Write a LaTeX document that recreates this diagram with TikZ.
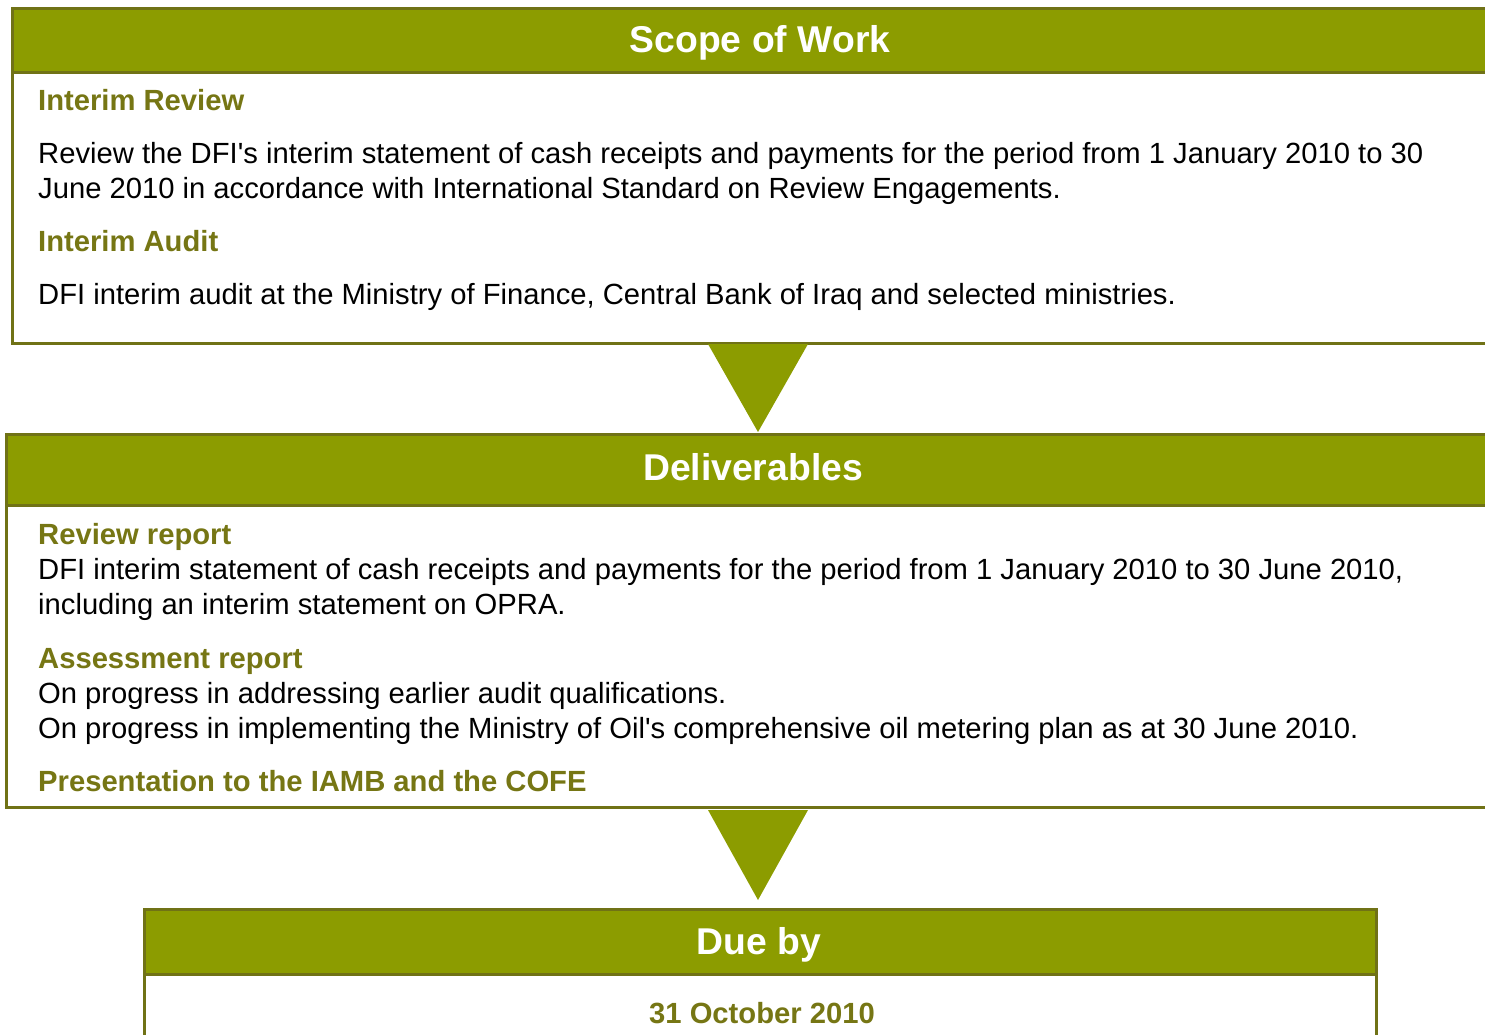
\documentclass[tikz,border=0pt]{standalone}
\usepackage{fontspec}
\setmainfont{Liberation Sans}[Ligatures=TeXOff]
\definecolor{hdrfill}{RGB}{140,156,0}
\definecolor{hdrline}{RGB}{112,114,22}
\definecolor{subtxt}{RGB}{118,118,20}
\tikzset{
  boxbody/.style={draw=hdrline, line width=2.5pt, fill=white, rectangle, anchor=north west, inner sep=0pt},
  boxhead/.style={draw=hdrline, line width=2.5pt, fill=hdrfill, rectangle, anchor=north west, inner sep=0pt},
  headtxt/.style={text=white, font=\fontsize{37.3}{42}\selectfont\bfseries, anchor=base, inner sep=0pt},
  subhead/.style={text=subtxt, font=\fontsize{29.2}{35}\selectfont\bfseries, anchor=base west, inner sep=0pt},
  bodytxt/.style={text=black, font=\fontsize{29.2}{35}\selectfont, anchor=base west, inner sep=0pt},
  tri/.style={fill=hdrfill, draw=none}
}
\begin{document}
\begin{tikzpicture}[x=1pt,y=-1pt]
\useasboundingbox (0,0) rectangle (1485,1034);
\clip (0,0) rectangle (1485,1034);
% box 1
\node[boxbody, minimum width=1500pt, minimum height=335pt] (b1) at (11,7) {};
\node[boxhead, minimum width=1500pt, minimum height=64pt] (h1) at (11,7) {};
\node[headtxt] (t1) at (760,52) {Scope of Work};
\node[subhead] (s1a) at (38,110) {Interim Review};
\node[bodytxt] (p1a) at (38,163) {Review the DFI's interim statement of cash receipts and payments for the period from 1 January 2010 to 30};
\node[bodytxt] (p1a2) at (38,198) {June 2010 in accordance with International Standard on Review Engagements.};
\node[subhead] (s1b) at (38,251) {Interim Audit};
\node[bodytxt] (p1b) at (38,304) {DFI interim audit at the Ministry of Finance, Central Bank of Iraq and selected ministries.};
% box 2
\node[boxbody, minimum width=1500pt, minimum height=373pt] (b2) at (5,433) {};
\node[boxhead, minimum width=1500pt, minimum height=71pt] (h2) at (5,433) {};
\node[headtxt] (t2) at (753,480) {Deliverables};
\node[subhead] (s2a) at (38,544) {Review report};
\node[bodytxt] (p2a) at (38,579) {DFI interim statement of cash receipts and payments for the period from 1 January 2010 to 30 June 2010,};
\node[bodytxt] (p2a2) at (38,614) {including an interim statement on OPRA.};
\node[subhead] (s2b) at (38,668) {Assessment report};
\node[bodytxt] (p2b) at (38,703) {On progress in addressing earlier audit qualifications.};
\node[bodytxt] (p2b2) at (38,738) {On progress in implementing the Ministry of Oil's comprehensive oil metering plan as at 30 June 2010.};
\node[subhead] (s2c) at (38,791) {Presentation to the IAMB and the COFE};
% box 3
\node[boxbody, minimum width=1232pt, minimum height=200pt] (b3) at (143,908) {};
\node[boxhead, minimum width=1232pt, minimum height=65pt] (h3) at (143,908) {};
\node[headtxt] (t3) at (759,954) {Due by};
\node[subhead, anchor=base] (s3) at (762,1023) {31 October 2010};
% arrows
\coordinate (a1l) at (708,344);
\coordinate (a1r) at (808,344);
\coordinate (a1t) at (758,432);
\fill[tri] (a1l) -- (a1r) -- (a1t) -- cycle;
\coordinate (a2l) at (708,810);
\coordinate (a2r) at (808,810);
\coordinate (a2t) at (758,900);
\fill[tri] (a2l) -- (a2r) -- (a2t) -- cycle;
\end{tikzpicture}
\end{document}
